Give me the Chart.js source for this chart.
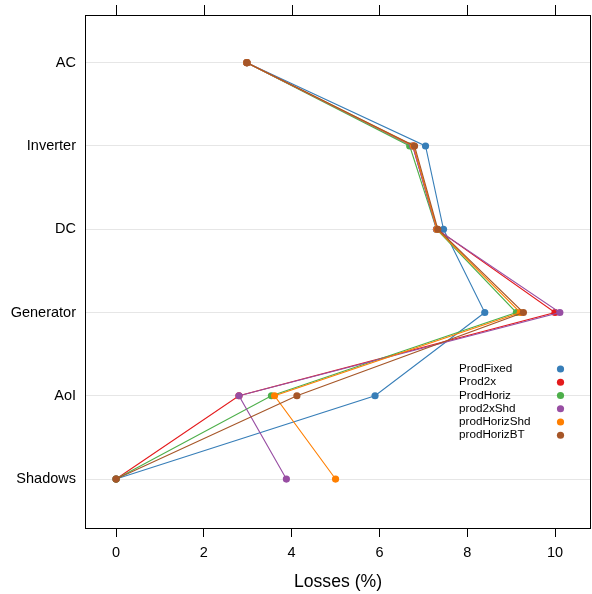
<!DOCTYPE html>
<html>
<head>
<meta charset="utf-8">
<script src="https://cdn.jsdelivr.net/npm/chart.js@4.4.1/dist/chart.umd.min.js"></script>
<style>
html,body{margin:0;padding:0;background:#fff;}
#wrap{width:592px;height:594px;}
</style>
</head>
<body>
<div id="wrap"><canvas id="c" width="592" height="594"></canvas></div>
<script>
const categories = ["AC", "Inverter", "DC", "Generator", "AoI", "Shadows"];
const seriesNames = ["ProdFixed", "Prod2x", "ProdHoriz", "prod2xShd", "prodHorizShd", "prodHorizBT"];
const seriesColors = ["#377EB8", "#E41A1C", "#4DAF4A", "#984EA3", "#FF7F00", "#A65628"];
const prodFixed    = [2.98, 7.05, 7.46, 8.40, 5.90, 0.00];
const prod2x       = [2.98, 6.76, 7.31, 10.00, 2.80, 0.00];
const prodHoriz    = [2.98, 6.69, 7.30, 9.12, 3.54, 0.00];
const prod2xShd    = [2.98, 6.76, 7.30, 10.11, 2.80, 3.88];
const prodHorizShd = [2.98, 6.78, 7.31, 9.21, 3.61, 5.00];
const prodHorizBT  = [2.98, 6.80, 7.33, 9.28, 4.12, 0.00];
const xTicks = [0, 2, 4, 6, 8, 10];
const allSeries = [prodFixed, prod2x, prodHoriz, prod2xShd, prodHorizShd, prodHorizBT];

const FONT = "'Liberation Sans', Arial, Helvetica, sans-serif";

const datasets = allSeries.map((vals, i) => ({
  label: seriesNames[i],
  data: vals.map((v, j) => ({x: v, y: j + 1})),
  borderColor: seriesColors[i],
  backgroundColor: seriesColors[i],
  pointBackgroundColor: seriesColors[i],
  pointBorderWidth: 0,
  pointRadius: 3.6,
  borderWidth: 1.1,
  showLine: true,
  tension: 0,
  order: allSeries.length - i
}));

const framePlugin = {
  id: 'frame',
  afterDraw(chart) {
    const ctx = chart.ctx;
    const a = chart.chartArea;
    const xs = chart.scales.x;
    ctx.save();
    ctx.strokeStyle = '#000';
    ctx.lineWidth = 1;
    ctx.strokeRect(Math.round(a.left) + 0.5, Math.round(a.top) + 0.5,
                   Math.round(a.right - a.left) - 1, Math.round(a.bottom - a.top));
    // top ticks
    ctx.beginPath();
    xTicks.forEach(t => {
      const px = Math.round(xs.getPixelForValue(t)) + 0.5;
      ctx.moveTo(px, a.top);
      ctx.lineTo(px, a.top - 10);
    });
    ctx.stroke();
    // legend
    ctx.font = "11.7px " + FONT;
    ctx.textBaseline = 'middle';
    ctx.textAlign = 'left';
    chart.data.datasets.forEach((ds, i) => {
      const y = 369 + i * 13.25;
      ctx.fillStyle = '#000';
      ctx.fillText(ds.label, 459, y);
      ctx.fillStyle = ds.borderColor;
      ctx.beginPath();
      ctx.arc(560.5, y, 3.6, 0, Math.PI * 2);
      ctx.fill();
    });
    ctx.restore();
  }
};

new Chart(document.getElementById('c'), {
  type: 'scatter',
  data: { datasets },
  options: {
    responsive: false,
    animation: false,
    events: [],
    layout: { autoPadding: false, padding: { top: 15, right: 1, left: 0, bottom: 0 } },
    plugins: { legend: { display: false }, tooltip: { enabled: false } },
    scales: {
      x: {
        type: 'linear',
        position: 'bottom',
        min: -0.708,
        max: 10.82,
        afterBuildTicks(s) { s.ticks = xTicks.map(v => ({value: v})); },
        afterFit(s) { s.height = 66; s.paddingLeft = 0; s.paddingRight = 0; },
        grid: { drawOnChartArea: false, drawTicks: true, tickLength: 9, color: '#000', lineWidth: 1 },
        border: { display: false },
        ticks: { color: '#000', font: { family: FONT, size: 14.5 }, padding: 7, maxRotation: 0 },
        title: { display: true, text: 'Losses (%)', color: '#000', font: { family: FONT, size: 17.6 }, padding: { top: 4, bottom: 1 } }
      },
      y: {
        type: 'linear',
        position: 'left',
        reverse: true,
        min: 0.427,
        max: 6.588,
        afterBuildTicks(s) { s.ticks = categories.map((c, i) => ({value: i + 1})); },
        afterFit(s) { s.width = 85; s.paddingTop = 0; s.paddingBottom = 0; },
        grid: { drawOnChartArea: true, drawTicks: false, color: '#e6e6e6', lineWidth: 1 },
        border: { display: false },
        ticks: {
          color: '#000',
          font: { family: FONT, size: 14.5 },
          padding: 9,
          callback: (v) => categories[Math.round(v) - 1]
        }
      }
    }
  },
  plugins: [framePlugin]
});
</script>
</body>
</html>
